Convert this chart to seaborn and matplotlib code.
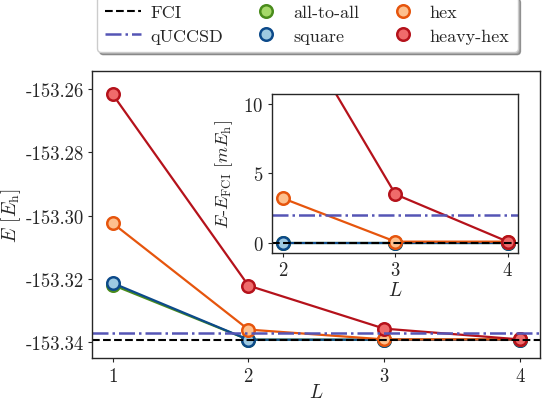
"""
Ansatz energy vs. number of layers for different qubit connectivities,
with an inset showing the error relative to FCI.
"""

import matplotlib.pyplot as plt
import pandas as pd
import seaborn as sns


LAYERS = [1, 2, 3, 4]

E_FCI = -153.3392
E_QUCCSD = -153.3372

ALL_TO_ALL = [-153.3219, -153.3392, -153.3392, -153.3392]
SQUARE = [-153.3213, -153.3392, -153.3392, -153.3392]
HEX = [-153.3024, -153.3360, -153.3391, -153.3391]
HEAVY_HEX = [-153.2617, -153.3221, -153.3357, -153.3391]

SERIES = ["all-to-all", "square", "hex", "heavy-hex"]
EDGE_COLORS = ["#4a8c1c", "#0c4a8a", "#e6550d", "#b5121b"]
FACE_COLORS = ["#a6d96a", "#9ecae1", "#fdc08e", "#ef6b6b"]

Y_TICKS = [-153.26, -153.28, -153.30, -153.32, -153.34]


def build_dataframe() -> pd.DataFrame:
    """Collect all series into one long table."""

    frames = []
    for name, values in zip(SERIES, [ALL_TO_ALL, SQUARE, HEX, HEAVY_HEX]):
        frames.append(pd.DataFrame({
            "L": LAYERS,
            "E": values,
            "connectivity": name,
        }))
    data = pd.concat(frames, ignore_index=True)
    data["dE"] = (data["E"] - E_FCI) * 1000.0
    return data


def draw_series(ax, data, y_col):
    """Draw one line + markers per connectivity."""

    for name, edge, face in zip(SERIES, EDGE_COLORS, FACE_COLORS):
        subset = data[data["connectivity"] == name]
        sns.lineplot(
            data=subset,
            x="L",
            y=y_col,
            ax=ax,
            color=edge,
            linewidth=1.6,
            marker="o",
            markersize=9,
            markerfacecolor=face,
            markeredgecolor=edge,
            markeredgewidth=1.8,
            label=name,
            legend=False,
        )


def style_axes(ax):
    for spine in ax.spines.values():
        spine.set_visible(True)
        spine.set_linewidth(1.0)
    ax.tick_params(labelsize=13.5, length=3, width=0.8, pad=3)


def main() -> None:
    sns.set_style("ticks")
    plt.rcParams["font.family"] = ["cmr10", "DejaVu Serif"]
    plt.rcParams["mathtext.fontset"] = "cm"
    plt.rcParams["axes.unicode_minus"] = False
    plt.rcParams["axes.formatter.use_mathtext"] = True
    plt.rcParams["font.size"] = 13

    data = build_dataframe()

    fig = plt.figure(figsize=(5.43, 4.02), dpi=100)
    ax = fig.add_axes([0.170, 0.106, 0.825, 0.715])

    draw_series(ax, data, "E")
    fci_line = ax.axhline(E_FCI, color="black", linestyle="--",
                          linewidth=1.5, label="FCI")
    qucc_line = ax.axhline(E_QUCCSD, color="#5555b5", linestyle="-.",
                           linewidth=1.8, label="qUCCSD")

    ax.set_xlim(0.85, 4.15)
    ax.set_ylim(-153.3451, -153.2543)
    ax.set_xticks(LAYERS)
    ax.set_yticks(Y_TICKS)
    ax.set_yticklabels([f"{t:.2f}" for t in Y_TICKS])
    style_axes(ax)
    ax.set_xlabel("$L$", fontsize=14, labelpad=-1)
    ax.set_ylabel(r"$E$ [$E_{\mathrm{h}}$]", fontsize=14, labelpad=2)

    # Legend above the main axes
    handles = [fci_line, qucc_line]
    for name, edge, face in zip(SERIES, EDGE_COLORS, FACE_COLORS):
        handles.append(plt.Line2D(
            [], [], linestyle="none", marker="o", markersize=9,
            markerfacecolor=face, markeredgecolor=edge,
            markeredgewidth=1.8, label=name,
        ))
    ax.legend(
        handles=handles,
        loc="lower center",
        bbox_to_anchor=(0.48, 1.035),
        ncol=3,
        frameon=True,
        fancybox=True,
        shadow=True,
        fontsize=13,
        handlelength=2.0,
        handletextpad=0.5,
        columnspacing=1.4,
        borderpad=0.45,
        labelspacing=0.45,
    )

    # Inset: error relative to FCI in milli-Hartree
    inset = fig.add_axes([0.5004, 0.368, 0.454, 0.3955])
    inset_data = data[data["L"] >= 2]
    draw_series(inset, inset_data, "dE")
    inset.axhline(0.0, color="black", linestyle="--", linewidth=1.5)
    inset.axhline((E_QUCCSD - E_FCI) * 1000.0, color="#5555b5",
                  linestyle="-.", linewidth=1.8)
    inset.set_xlim(1.897, 4.094)
    inset.set_ylim(-0.72, 10.7)
    inset.set_xticks([2, 3, 4])
    inset.set_yticks([0, 5, 10])
    style_axes(inset)
    inset.set_xlabel("$L$", fontsize=14, labelpad=1)
    inset.set_ylabel(r"$E$-$E_{\mathrm{FCI}}$ [$mE_{\mathrm{h}}$]",
                     fontsize=13, labelpad=6)

    fig.savefig("out.png", dpi=100)


if __name__ == "__main__":
    main()
